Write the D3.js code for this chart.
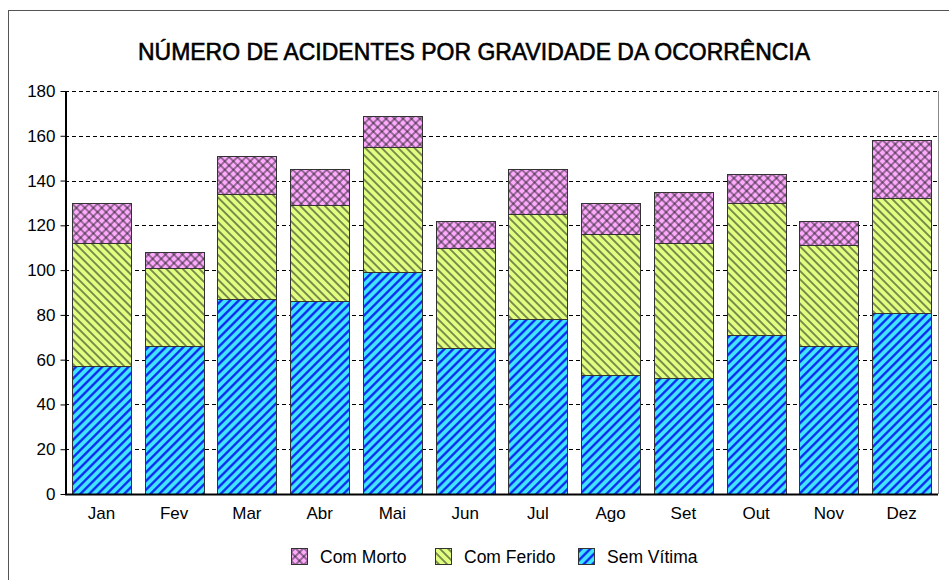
<!DOCTYPE html>
<html>
<head>
<meta charset="utf-8">
<script src="https://cdn.jsdelivr.net/npm/d3@7"></script>
<style>
  body { margin: 0; background: #fff; }
  svg { display: block; }
</style>
</head>
<body>
<div id="chart"></div>
<script>
const months = ["Jan", "Fev", "Mar", "Abr", "Mai", "Jun", "Jul", "Ago", "Set", "Out", "Nov", "Dez"];
const semVitima = [57, 66, 87, 86, 99, 65, 78, 53, 52, 71, 66, 81];
const comFerido = [55, 35, 47, 43, 56, 45, 47, 63, 60, 59, 45, 51];
const comMorto = [18, 7, 17, 16, 14, 12, 20, 14, 23, 13, 11, 26];
const yTicks = [0, 20, 40, 60, 80, 100, 120, 140, 160, 180];
const seriesNames = ["Sem Vítima", "Com Ferido", "Com Morto"];
const legendOrder = ["Com Morto", "Com Ferido", "Sem Vítima"];
const title = "NÚMERO DE ACIDENTES POR GRAVIDADE DA OCORRÊNCIA";

const width = 949, height = 580;
const margin = { top: 91, right: 11, bottom: 86, left: 65 };

const svg = d3.select("#chart").append("svg")
   .attr("width", width)
   .attr("height", height)
   .style("font-family", "'Liberation Sans', Arial, sans-serif");

// hatch patterns (line drawn through the middle of a rotated tile)
const defs = svg.append("defs");
const makeStripes = (id, bg, fg, sw, size, angle) => {
   const p = defs.append("pattern")
      .attr("id", id)
      .attr("patternUnits", "userSpaceOnUse")
      .attr("width", size)
      .attr("height", size)
      .attr("patternTransform", `rotate(${angle})`);
   p.append("rect").attr("width", size).attr("height", size).attr("fill", bg);
   p.append("line").attr("x1", size / 2).attr("y1", 0).attr("x2", size / 2).attr("y2", size)
      .attr("stroke", fg).attr("stroke-width", sw);
   return p;
};
makeStripes("pat-sem", "#40e4ff", "#0a1cf0", 2.2, 6.2, 45);
makeStripes("pat-ferido", "#e0ff80", "#1a1a1a", 1, 5.8, -45);
const cross = makeStripes("pat-morto", "#ffaaff", "#1a1a1a", 0.9, 6, 45);
cross.append("line").attr("x1", 0).attr("y1", 3).attr("x2", 6).attr("y2", 3)
   .attr("stroke", "#1a1a1a").attr("stroke-width", 0.9);

const colors = {
   "Sem Vítima": "url(#pat-sem)",
   "Com Ferido": "url(#pat-ferido)",
   "Com Morto": "url(#pat-morto)"
};

// outer frame
svg.append("rect")
   .attr("x", 8.5).attr("y", 10.5)
   .attr("width", width + 20).attr("height", height + 20)
   .attr("fill", "none")
   .attr("stroke", "#555");

svg.append("text")
   .attr("x", 474)
   .attr("y", 60)
   .attr("text-anchor", "middle")
   .attr("textLength", 672)
   .attr("lengthAdjust", "spacingAndGlyphs")
   .style("font-family", "'Liberation Sans Narrow', 'Liberation Sans', Arial, sans-serif")
   .style("font-size", "24px")
   .style("font-weight", "normal")
   .attr("stroke", "#000")
   .attr("stroke-width", 0.6)
   .attr("fill", "#000")
   .text(title);

const x = d3.scaleBand()
   .domain(months)
   .range([margin.left, width - margin.right])
   .paddingInner(0.19)
   .paddingOuter(0.095);

const y = d3.scaleLinear()
   .domain([0, 180])
   .range([height - margin.bottom, margin.top]);

// gridlines
svg.append("g")
   .selectAll("line")
   .data(yTicks.filter(d => d > 0))
   .join("line")
   .attr("x1", margin.left)
   .attr("x2", width - margin.right)
   .attr("y1", d => Math.round(y(d)) + 0.5)
   .attr("y2", d => Math.round(y(d)) + 0.5)
   .attr("stroke", "#000")
   .attr("stroke-dasharray", "4,3");

// right border of plot
svg.append("line")
   .attr("x1", width - margin.right + 0.5)
   .attr("x2", width - margin.right + 0.5)
   .attr("y1", margin.top)
   .attr("y2", height - margin.bottom)
   .attr("stroke", "#888");

const data = months.map((m, i) => ({
   month: m,
   "Sem Vítima": semVitima[i],
   "Com Ferido": comFerido[i],
   "Com Morto": comMorto[i]
}));
const stacked = d3.stack().keys(seriesNames)(data);

svg.append("g")
   .selectAll("g")
   .data(stacked)
   .join("g")
   .attr("fill", d => colors[d.key])
   .selectAll("rect")
   .data(d => d)
   .join("rect")
   .attr("x", d => Math.round(x(d.data.month)) + 0.5)
   .attr("y", d => Math.round(y(d[1])) + 0.5)
   .attr("width", Math.round(x.bandwidth()))
   .attr("height", d => Math.round(y(d[0])) - Math.round(y(d[1])))
   .attr("stroke", "#333")
   .attr("stroke-width", 1);

// axes
const yAxis = svg.append("g")
   .attr("transform", `translate(${margin.left + 0.5},0)`)
   .call(d3.axisLeft(y).tickValues(yTicks).tickSize(5).tickSizeOuter(0).tickPadding(5));
yAxis.select(".domain").attr("stroke", "#000").attr("stroke-width", 2);
yAxis.selectAll(".tick line").attr("stroke", "#000");
yAxis.selectAll("text").style("font-size", "17px").attr("fill", "#000");

const xAxis = svg.append("g")
   .attr("transform", `translate(0,${height - margin.bottom + 0.5})`)
   .call(d3.axisBottom(x).tickSize(0).tickPadding(12));
xAxis.select(".domain").attr("stroke", "#000").attr("stroke-width", 2)
   .attr("d", `M${margin.left},0H${width - margin.right}`);
xAxis.selectAll("text").style("font-size", "17px").attr("fill", "#000");

// legend
const legendX = [291, 435, 578];
const legend = svg.append("g")
   .selectAll("g")
   .data(legendOrder)
   .join("g")
   .attr("transform", (d, i) => `translate(${legendX[i]},548)`);
legend.append("rect")
   .attr("x", 0.5).attr("y", 0.5)
   .attr("width", 16).attr("height", 16)
   .attr("fill", d => colors[d])
   .attr("stroke", "#333");
legend.append("text")
   .attr("x", 29)
   .attr("y", 15)
   .style("font-size", "17.5px")
   .attr("fill", "#000")
   .text(d => d);
</script>
</body>
</html>
